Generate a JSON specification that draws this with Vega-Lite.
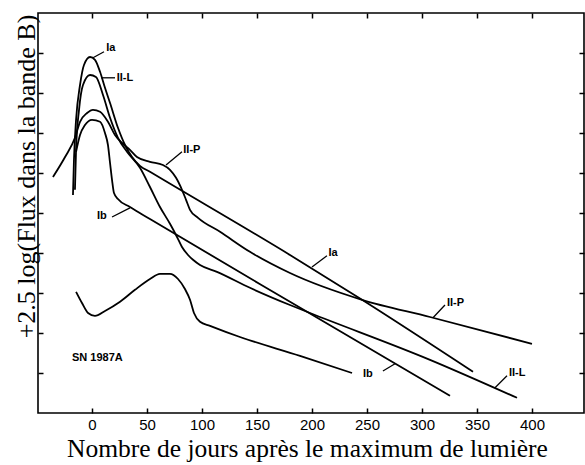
{
  "$schema": "https://vega.github.io/schema/vega-lite/v6.json",
  "autosize": "none",
  "width": 546,
  "height": 400,
  "padding": {"left": 38, "top": 13, "right": 1, "bottom": 52},
  "background": "white",
  "config": {
    "view": {"stroke": "black", "strokeWidth": 1.6},
    "axis": {"grid": false, "domain": false, "tickColor": "black", "tickWidth": 1.5, "labelColor": "black", "titleColor": "black"}
  },
  "datasets": {
    "curves": [
      {"serie": "Ia", "jour": -17.3, "flux": 5.45},
      {"serie": "Ia", "jour": -16.4, "flux": 6.33},
      {"serie": "Ia", "jour": -14.5, "flux": 7.33},
      {"serie": "Ia", "jour": -10.9, "flux": 8.2},
      {"serie": "Ia", "jour": -7.3, "flux": 8.7},
      {"serie": "Ia", "jour": -1.8, "flux": 8.9},
      {"serie": "Ia", "jour": 2.7, "flux": 8.83},
      {"serie": "Ia", "jour": 7.3, "flux": 8.53},
      {"serie": "Ia", "jour": 11.8, "flux": 8.13},
      {"serie": "Ia", "jour": 16.4, "flux": 7.75},
      {"serie": "Ia", "jour": 23.6, "flux": 7.13},
      {"serie": "Ia", "jour": 30, "flux": 6.7},
      {"serie": "Ia", "jour": 36.4, "flux": 6.4},
      {"serie": "Ia", "jour": 43.6, "flux": 6.18},
      {"serie": "Ia", "jour": 52.7, "flux": 6.03},
      {"serie": "Ia", "jour": 180, "flux": 3.95},
      {"serie": "Ia", "jour": 245.5, "flux": 2.83},
      {"serie": "Ia", "jour": 346.4, "flux": 1.03},
      {"serie": "II-L", "jour": -15.5, "flux": 5.58},
      {"serie": "II-L", "jour": -14.5, "flux": 6.58},
      {"serie": "II-L", "jour": -11.8, "flux": 7.58},
      {"serie": "II-L", "jour": -8.2, "flux": 8.2},
      {"serie": "II-L", "jour": -1.8, "flux": 8.45},
      {"serie": "II-L", "jour": 3.6, "flux": 8.4},
      {"serie": "II-L", "jour": 10, "flux": 7.95},
      {"serie": "II-L", "jour": 16.4, "flux": 7.38},
      {"serie": "II-L", "jour": 23.6, "flux": 6.88},
      {"serie": "II-L", "jour": 31.8, "flux": 6.53},
      {"serie": "II-L", "jour": 43.6, "flux": 6.13},
      {"serie": "II-L", "jour": 52.7, "flux": 5.65},
      {"serie": "II-L", "jour": 61.8, "flux": 5.15},
      {"serie": "II-L", "jour": 70.9, "flux": 4.73},
      {"serie": "II-L", "jour": 77.3, "flux": 4.4},
      {"serie": "II-L", "jour": 81.8, "flux": 4.15},
      {"serie": "II-L", "jour": 87.3, "flux": 3.95},
      {"serie": "II-L", "jour": 91.8, "flux": 3.83},
      {"serie": "II-L", "jour": 98.2, "flux": 3.7},
      {"serie": "II-L", "jour": 113.6, "flux": 3.53},
      {"serie": "II-L", "jour": 143.6, "flux": 3.13},
      {"serie": "II-L", "jour": 180, "flux": 2.7},
      {"serie": "II-L", "jour": 198.2, "flux": 2.5},
      {"serie": "II-L", "jour": 307.3, "flux": 1.33},
      {"serie": "II-L", "jour": 386.4, "flux": 0.38},
      {"serie": "Ib", "jour": -14.5, "flux": 6.53},
      {"serie": "Ib", "jour": -10.9, "flux": 6.95},
      {"serie": "Ib", "jour": -6.4, "flux": 7.2},
      {"serie": "Ib", "jour": 0, "flux": 7.33},
      {"serie": "Ib", "jour": 7.3, "flux": 7.28},
      {"serie": "Ib", "jour": 11.8, "flux": 7.0},
      {"serie": "Ib", "jour": 14.5, "flux": 6.7},
      {"serie": "Ib", "jour": 16.4, "flux": 6.25},
      {"serie": "Ib", "jour": 18.2, "flux": 5.83},
      {"serie": "Ib", "jour": 20, "flux": 5.5},
      {"serie": "Ib", "jour": 23.6, "flux": 5.35},
      {"serie": "Ib", "jour": 34.5, "flux": 5.15},
      {"serie": "Ib", "jour": 52.7, "flux": 4.85},
      {"serie": "Ib", "jour": 180, "flux": 2.78},
      {"serie": "Ib", "jour": 325.5, "flux": 0.43},
      {"serie": "II-P", "jour": -35.5, "flux": 5.9},
      {"serie": "II-P", "jour": -24.5, "flux": 6.4},
      {"serie": "II-P", "jour": -15.5, "flux": 6.88},
      {"serie": "II-P", "jour": -10.9, "flux": 7.28},
      {"serie": "II-P", "jour": -4.5, "flux": 7.5},
      {"serie": "II-P", "jour": 0.9, "flux": 7.58},
      {"serie": "II-P", "jour": 7.3, "flux": 7.53},
      {"serie": "II-P", "jour": 14.5, "flux": 7.28},
      {"serie": "II-P", "jour": 20.9, "flux": 6.95},
      {"serie": "II-P", "jour": 27.3, "flux": 6.75},
      {"serie": "II-P", "jour": 34.5, "flux": 6.58},
      {"serie": "II-P", "jour": 40.9, "flux": 6.4},
      {"serie": "II-P", "jour": 52.7, "flux": 6.28},
      {"serie": "II-P", "jour": 64.5, "flux": 6.2},
      {"serie": "II-P", "jour": 70.9, "flux": 6.08},
      {"serie": "II-P", "jour": 76.4, "flux": 5.88},
      {"serie": "II-P", "jour": 81.8, "flux": 5.58},
      {"serie": "II-P", "jour": 85.5, "flux": 5.33},
      {"serie": "II-P", "jour": 89.1, "flux": 5.08},
      {"serie": "II-P", "jour": 96.4, "flux": 4.88},
      {"serie": "II-P", "jour": 116.4, "flux": 4.53},
      {"serie": "II-P", "jour": 143.6, "flux": 4.03},
      {"serie": "II-P", "jour": 180, "flux": 3.5},
      {"serie": "II-P", "jour": 245.5, "flux": 2.83},
      {"serie": "II-P", "jour": 307.3, "flux": 2.4},
      {"serie": "II-P", "jour": 400, "flux": 1.73},
      {"serie": "SN1987A", "jour": -14.5, "flux": 3.03},
      {"serie": "SN1987A", "jour": -9.1, "flux": 2.75},
      {"serie": "SN1987A", "jour": -3.6, "flux": 2.5},
      {"serie": "SN1987A", "jour": 2.7, "flux": 2.43},
      {"serie": "SN1987A", "jour": 11.8, "flux": 2.55},
      {"serie": "SN1987A", "jour": 25.5, "flux": 2.78},
      {"serie": "SN1987A", "jour": 39.1, "flux": 3.08},
      {"serie": "SN1987A", "jour": 52.7, "flux": 3.35},
      {"serie": "SN1987A", "jour": 61.8, "flux": 3.48},
      {"serie": "SN1987A", "jour": 70.9, "flux": 3.48},
      {"serie": "SN1987A", "jour": 78.2, "flux": 3.35},
      {"serie": "SN1987A", "jour": 84.5, "flux": 3.1},
      {"serie": "SN1987A", "jour": 89.1, "flux": 2.83},
      {"serie": "SN1987A", "jour": 92.7, "flux": 2.5},
      {"serie": "SN1987A", "jour": 98.2, "flux": 2.28},
      {"serie": "SN1987A", "jour": 107.3, "flux": 2.18},
      {"serie": "SN1987A", "jour": 134.5, "flux": 1.9},
      {"serie": "SN1987A", "jour": 189.1, "flux": 1.43},
      {"serie": "SN1987A", "jour": 236.4, "flux": 1.0}
    ],
    "pointers": [
      {"j1": 10.9, "f1": 9.03, "j2": 0.9, "f2": 8.88},
      {"j1": 20.9, "f1": 8.38, "j2": 8.2, "f2": 8.38},
      {"j1": 81.8, "f1": 6.53, "j2": 67.3, "f2": 6.2},
      {"j1": 18.2, "f1": 4.9, "j2": 34.5, "f2": 5.13},
      {"j1": 213.6, "f1": 3.93, "j2": 200, "f2": 3.65},
      {"j1": 320.9, "f1": 2.7, "j2": 310, "f2": 2.38},
      {"j1": 264.5, "f1": 1.05, "j2": 275.5, "f2": 1.23},
      {"j1": 377.3, "f1": 0.93, "j2": 366.4, "f2": 0.63}
    ],
    "labels": [
      {"texte": "Ia", "jour": 13, "flux": 9.13},
      {"texte": "II-L", "jour": 22.5, "flux": 8.38},
      {"texte": "II-P", "jour": 83, "flux": 6.58},
      {"texte": "Ib", "jour": 4.5, "flux": 4.93},
      {"texte": "Ia", "jour": 215, "flux": 4.0},
      {"texte": "II-P", "jour": 322.7, "flux": 2.75},
      {"texte": "Ib", "jour": 246.4, "flux": 0.98},
      {"texte": "II-L", "jour": 379, "flux": 1.0},
      {"texte": "SN 1987A", "jour": -18.2, "flux": 1.38}
    ]
  },
  "resolve": {"axis": {"x": "independent", "y": "independent"}},
  "layer": [
    {
      "data": {"name": "curves"},
      "mark": {"type": "line", "color": "black", "strokeWidth": 1.8, "interpolate": "monotone"},
      "encoding": {
        "x": {"field": "jour", "type": "quantitative", "scale": {"domain": [-49.1, 447.3], "nice": false, "zero": false},
              "axis": {"orient": "bottom", "values": [0, 50, 100, 150, 200, 250, 300, 350, 400], "tickSize": -5, "labelPadding": 9,
                       "labelFont": "Liberation Sans", "labelFontSize": 15, "labelFlush": false,
                       "title": "Nombre de jours après le maximum de lumière", "titleFont": "Liberation Serif", "titleFontSize": 25.5,
                       "titleFontWeight": "normal", "titleX": 269, "titleAlign": "center", "titleY": 43, "titleBaseline": "alphabetic"}},
        "y": {"field": "flux", "type": "quantitative", "scale": {"domain": [0, 10], "nice": false},
              "axis": {"orient": "left", "values": [1, 2, 3, 4, 5, 6, 7, 8, 9], "tickSize": -5, "labels": false,
                       "title": "+2.5 log(Flux dans la bande B)", "titleFont": "Liberation Serif", "titleFontSize": 26,
                       "titleFontWeight": "normal", "titleX": -12, "titleY": 163, "titleBaseline": "middle", "titleAlign": "center", "titleAngle": -90}},
        "detail": {"field": "serie", "type": "nominal"}
      }
    },
    {
      "data": {"name": "pointers"},
      "mark": {"type": "rule", "color": "black", "strokeWidth": 1.3},
      "encoding": {
        "x": {"field": "j1", "type": "quantitative",
              "axis": {"orient": "top", "values": [0, 50, 100, 150, 200, 250, 300, 350, 400], "tickSize": -5, "labels": false, "title": null}},
        "y": {"field": "f1", "type": "quantitative",
              "axis": {"orient": "right", "values": [1, 2, 3, 4, 5, 6, 7, 8, 9], "tickSize": -5, "labels": false, "title": null}},
        "x2": {"field": "j2"},
        "y2": {"field": "f2"}
      }
    },
    {
      "data": {"name": "labels"},
      "mark": {"type": "text", "align": "left", "baseline": "middle", "font": "Liberation Sans", "fontSize": 11, "fontWeight": "bold", "color": "black"},
      "encoding": {
        "x": {"field": "jour", "type": "quantitative", "axis": null},
        "y": {"field": "flux", "type": "quantitative", "axis": null},
        "text": {"field": "texte", "type": "nominal"}
      }
    }
  ]
}
